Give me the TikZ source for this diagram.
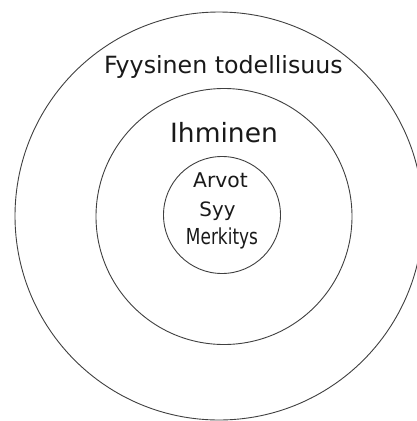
\documentclass[tikz,border=0pt]{standalone}
\usepackage{fontspec}
\setmainfont{DejaVu Sans}
\newfontfamily\condfont[FakeStretch=0.77]{DejaVu Sans}
\begin{document}
\begin{tikzpicture}[x=1pt,y=-1pt,
  ring/.style={circle, draw=black!75, line width=0.9pt, inner sep=0pt},
  lbl/.style={anchor=base, inner sep=0pt, text=black!90}]
\useasboundingbox (0,0) rectangle (417,421);
\clip (0,0) rectangle (417,421);
\fill[white] (0,0) rectangle (417,421);
\node[ring, minimum size=408pt] (outer) at (219,216) {};
\node[ring, minimum size=256pt] (middle) at (224,216.5) {};
\node[ring, minimum size=117pt] (inner) at (222,215) {};
\node[lbl, font=\fontsize{23.7}{28}\selectfont] (fyys) at (223.5,73) {Fyysinen todellisuus};
\node[lbl, font=\fontsize{26.5}{30}\selectfont] (ihm) at (224,142) {Ihminen};
\node[lbl, font=\fontsize{20.3}{24}\selectfont] (arvot) at (220.5,187) {Arvot};
\node[lbl, font=\fontsize{19.8}{24}\selectfont] (syy) at (217.5,216.5) {Syy};
\node[lbl, font=\condfont\fontsize{22}{24}\selectfont] (merk) at (222,244) {Merkitys};
\end{tikzpicture}
\end{document}
